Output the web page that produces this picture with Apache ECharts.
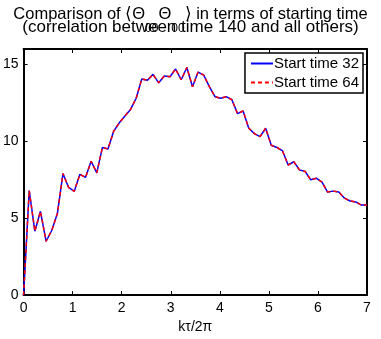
<!DOCTYPE html>
<html>
<head>
<meta charset="utf-8">
<script src="https://cdn.jsdelivr.net/npm/echarts@6/dist/echarts.min.js"></script>
<style>
  html, body { margin: 0; padding: 0; background: #fff; }
  #chart { width: 381px; height: 339px; }
</style>
</head>
<body>
<div id="chart"></div>
<script>
// x positions (kτ/2π)
const xs = [
  0.000, 0.115, 0.230, 0.344, 0.459, 0.574, 0.689, 0.803, 0.918, 1.033,
  1.148, 1.262, 1.377, 1.492, 1.607, 1.721, 1.836, 1.951, 2.066, 2.180,
  2.295, 2.410, 2.525, 2.639, 2.754, 2.869, 2.984, 3.098, 3.213, 3.328,
  3.443, 3.557, 3.672, 3.787, 3.902, 4.016, 4.131, 4.246, 4.361, 4.475,
  4.590, 4.705, 4.820, 4.934, 5.049, 5.164, 5.279, 5.393, 5.508, 5.623,
  5.738, 5.852, 5.967, 6.082, 6.197, 6.311, 6.426, 6.541, 6.656, 6.770,
  6.885, 7.000
]

// start time 32
const start32 = [
  0, 6.8, 4.15, 5.45, 3.5, 4.2, 5.3, 7.9, 7.0, 6.75,
  7.85, 7.65, 8.7, 7.95, 9.6, 9.5, 10.65, 11.2, 11.65, 12.07,
  12.8, 14.05, 13.97, 14.35, 13.8, 14.25, 14.2, 14.7, 14.0, 14.8,
  13.55, 14.5, 14.3, 13.55, 12.9, 12.8, 12.9, 12.7, 11.8, 11.97,
  10.85, 10.5, 10.3, 10.85, 9.74, 9.6, 9.37, 8.46, 8.67, 8.14,
  8.04, 7.5, 7.6, 7.35, 6.7, 6.76, 6.7, 6.3, 6.12, 6.06,
  5.85, 5.85
]

// start time 64
const start64 = [
  0, 6.8, 4.15, 5.45, 3.5, 4.2, 5.3, 7.9, 7.0, 6.75,
  7.85, 7.65, 8.7, 7.95, 9.6, 9.5, 10.65, 11.2, 11.65, 12.07,
  12.8, 14.05, 13.97, 14.35, 13.8, 14.25, 14.2, 14.7, 14.0, 14.8,
  13.55, 14.5, 14.3, 13.55, 12.9, 12.8, 12.9, 12.7, 11.8, 11.97,
  10.85, 10.5, 10.3, 10.85, 9.74, 9.6, 9.37, 8.46, 8.67, 8.14,
  8.04, 7.5, 7.6, 7.35, 6.7, 6.76, 6.7, 6.3, 6.12, 6.06,
  5.85, 5.85
]

const xTicks = [0, 1, 2, 3, 4, 5, 6, 7]
const yTicks = [0, 5, 10, 15]

const font = 'Liberation Sans, Arial, sans-serif'

const pair = (x, y) => x.map((v, i) => [v, y[i]])

const chart = echarts.init(document.getElementById('chart'))

// 轴的公共样式
const frameAxis = {
  axisLine: { show: true, onZero: false, lineStyle: { color: '#000', width: 2 } },
  axisTick: { show: true, inside: true, length: 4, lineStyle: { color: '#000', width: 1 } },
  splitLine: { show: false }
}

const option = {
  animation: false,
  backgroundColor: '#fff',
  title: [
    {
      text: '{t|Comparison of ⟨Θ}{s|00}{t|Θ}{s|00}{t|⟩ in terms of starting time}',
      left: 'center',
      top: 6,
      padding: 0,
      textStyle: {
        fontWeight: 'normal',
        rich: {
          t: { fontFamily: font, fontSize: 16.5, fontWeight: 'normal', color: '#000', lineHeight: 17, verticalAlign: 'top' },
          s: { fontFamily: font, fontSize: 12, fontWeight: 'normal', color: '#000', lineHeight: 12, verticalAlign: 'top', padding: [17, 0, 0, 0] }
        }
      }
    },
    {
      text: '(correlation between time 140 and all others)',
      left: 'center',
      top: 19,
      padding: 0,
      textStyle: { fontFamily: font, fontSize: 17, fontWeight: 'normal', color: '#000', lineHeight: 17 }
    }
  ],
  legend: {
    right: 18,
    top: 53,
    orient: 'vertical',
    backgroundColor: '#fff',
    borderColor: '#000',
    borderWidth: 1.5,
    padding: [3, 4, 3, 5],
    itemGap: 4,
    itemWidth: 22,
    itemHeight: 12,
    itemStyle: { opacity: 0 },
    textStyle: { fontFamily: font, fontSize: 15, color: '#000', padding: [0, 0, 0, -4] },
    data: ['Start time 32', 'Start time 64']
  },
  grid: { left: 20, right: 14, top: 49, bottom: 38 },
  xAxis: [
    {
      type: 'value', min: 0, max: 7, interval: 1,
      name: 'kτ/2π', nameLocation: 'middle', nameGap: 21,
      nameTextStyle: { fontFamily: font, fontSize: 14, color: '#000' },
      axisLabel: { fontFamily: font, fontSize: 14, color: '#000', margin: 6,
        formatter: v => xTicks.includes(v) ? String(v) : '' },
      ...frameAxis
    },
    {
      type: 'value', min: 0, max: 7, interval: 1, position: 'top',
      axisLabel: { show: false },
      ...frameAxis
    }
  ],
  yAxis: [
    {
      type: 'value', min: 0, max: 16, interval: 5,
      axisLabel: { fontFamily: font, fontSize: 14, color: '#000', margin: 5, showMaxLabel: false,
        formatter: v => yTicks.includes(v) ? String(v) : '' },
      ...frameAxis
    },
    {
      type: 'value', min: 0, max: 16, interval: 5, position: 'right',
      axisLabel: { show: false },
      ...frameAxis
    }
  ],
  series: [
    {
      name: 'Start time 32',
      type: 'line',
      data: pair(xs, start32),
      symbol: 'none',
      lineStyle: { color: '#0000ff', width: 1.5 },
      itemStyle: { color: '#0000ff' }
    },
    {
      name: 'Start time 64',
      type: 'line',
      data: pair(xs, start64),
      symbol: 'none',
      lineStyle: { color: '#ff0000', width: 1.5, type: [4, 3] },
      itemStyle: { color: '#ff0000' }
    }
  ]
}

chart.setOption(option)
</script>
</body>
</html>
